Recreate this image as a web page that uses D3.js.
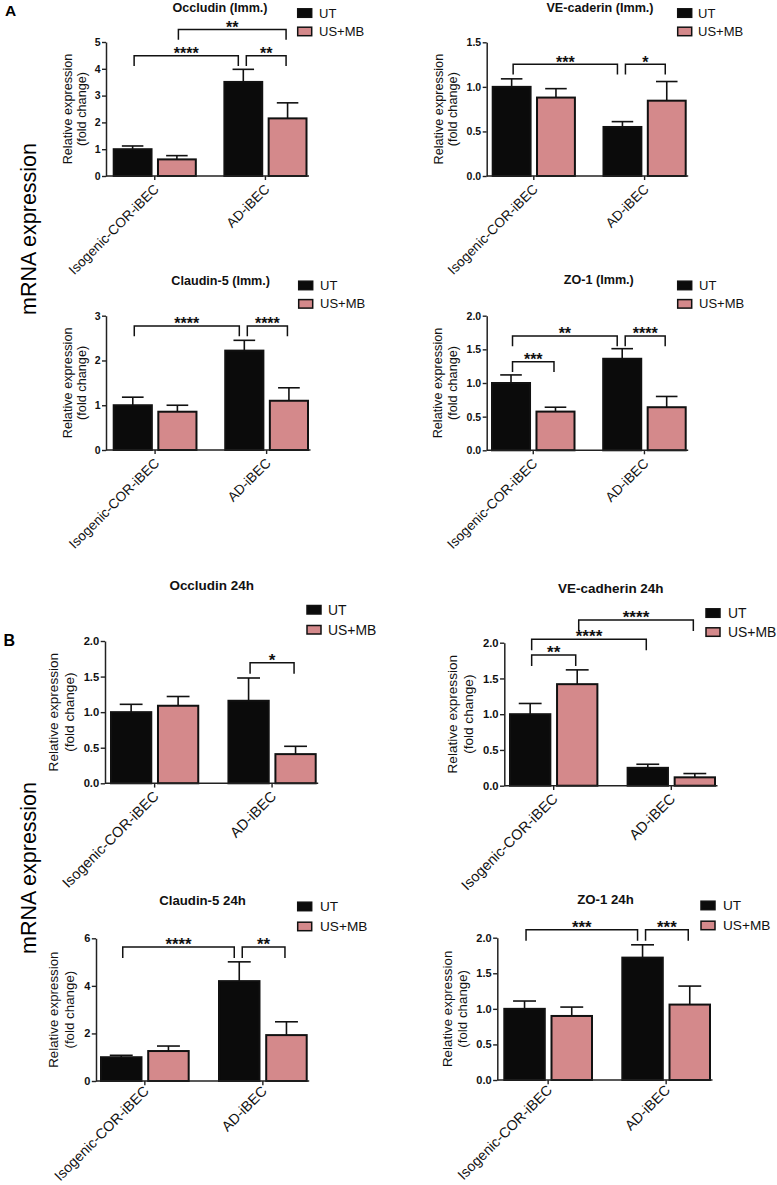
<!DOCTYPE html>
<html><head><meta charset="utf-8">
<script src="https://cdn.jsdelivr.net/npm/d3@7"></script>
<style>
html,body{margin:0;padding:0;background:#fff;}
svg{display:block;font-family:"Liberation Sans",Arial,Helvetica,sans-serif;}
</style></head>
<body>
<svg id="chart" width="777" height="1185"></svg>
<script>
// ---------------- DATA ----------------
const categories = ["Isogenic-COR-iBEC", "AD-iBEC"];
const seriesNames = ["UT", "US+MB"];

// Panel A (Imm.)
const occImmUT = [1.00, 3.51],  occImmUTsem = [0.12, 0.47];
const occImmUS = [0.62, 2.15],  occImmUSsem = [0.14, 0.58];
const occImmTicks = [0, 1, 2, 3, 4, 5];

const veImmUT = [1.00, 0.55],   veImmUTsem = [0.09, 0.06];
const veImmUS = [0.88, 0.845],  veImmUSsem = [0.10, 0.215];
const veImmTicks = [0, 0.5, 1.0, 1.5];

const clImmUT = [1.00, 2.22],   clImmUTsem = [0.18, 0.23];
const clImmUS = [0.855, 1.10],  clImmUSsem = [0.145, 0.29];
const clImmTicks = [0, 1, 2, 3];

const zoImmUT = [1.00, 1.36],   zoImmUTsem = [0.12, 0.15];
const zoImmUS = [0.575, 0.64],  zoImmUSsem = [0.065, 0.16];
const zoImmTicks = [0, 0.5, 1.0, 1.5, 2.0];

// Panel B (24h)
const occ24UT = [1.00, 1.16],   occ24UTsem = [0.11, 0.32];
const occ24US = [1.09, 0.41],   occ24USsem = [0.13, 0.11];
const occ24Ticks = [0, 0.5, 1.0, 1.5, 2.0];

const ve24UT = [1.00, 0.25],    ve24UTsem = [0.15, 0.05];
const ve24US = [1.42, 0.117],   ve24USsem = [0.20, 0.053];
const ve24Ticks = [0, 0.5, 1.0, 1.5, 2.0];

const cl24UT = [1.00, 4.20],    cl24UTsem = [0.08, 0.81];
const cl24US = [1.26, 1.93],    cl24USsem = [0.21, 0.56];
const cl24Ticks = [0, 2, 4, 6];

const zo24UT = [1.00, 1.72],    zo24UTsem = [0.11, 0.18];
const zo24US = [0.90, 1.06],    zo24USsem = [0.125, 0.26];
const zo24Ticks = [0, 0.5, 1.0, 1.5, 2.0];

// significance brackets: a/b = [category index, series index], lv = level in data units
const occImmSig = [{a:[0,0], b:[1,0], lv:4.49, t:"****"}, {a:[1,0], b:[1,1], lv:4.49, t:"**"}, {a:[0,1], b:[1,1], lv:5.47, t:"**"}];
const veImmSig  = [{a:[0,0], b:[1,0], lv:1.254, t:"***"}, {a:[1,0], b:[1,1], lv:1.254, t:"*"}];
const clImmSig  = [{a:[0,0], b:[1,0], lv:2.77, t:"****"}, {a:[1,0], b:[1,1], lv:2.77, t:"****"}];
const zoImmSig  = [{a:[0,0], b:[1,0], lv:1.70, t:"**"}, {a:[1,0], b:[1,1], lv:1.70, t:"****"}, {a:[0,0], b:[0,1], lv:1.317, t:"***"}];
const occ24Sig  = [{a:[1,0], b:[1,1], lv:1.694, t:"*"}];
const ve24Sig   = [{a:[0,0], b:[0,1], lv:1.828, t:"**"}, {a:[0,0], b:[1,0], lv:2.05, t:"****"}, {a:[0,1], b:[1,1], lv:2.318, t:"****"}];
const cl24Sig   = [{a:[0,0], b:[1,0], lv:5.63, t:"****"}, {a:[1,0], b:[1,1], lv:5.63, t:"**"}];
const zo24Sig   = [{a:[0,0], b:[1,0], lv:2.11, t:"***"}, {a:[1,0], b:[1,1], lv:2.11, t:"***"}];

// ---------------- LAYOUT ----------------
const COLORS = ["#0b0b0b", "#d4898b"];
const panels = [
  {title:"Occludin (Imm.)", ut:occImmUT, utE:occImmUTsem, us:occImmUS, usE:occImmUSsem, ticks:occImmTicks, fmt:"d", sig:occImmSig,
   ox:106, xl:112.7, xr:307.5, yTop:42, y0:176, tx:220, ty:7, lx:296.7, ly:8.3, ltx:319, gap:18.4, labDx:-34.3, s:1, cdy:14},
  {title:"VE-caderin (Imm.)", ut:veImmUT, utE:veImmUTsem, us:veImmUS, usE:veImmUSsem, ticks:veImmTicks, fmt:".1f", sig:veImmSig,
   ox:486.7, xl:491.7, xr:686.7, yTop:42.3, y0:176, tx:600, ty:7, lx:676.7, ly:8.3, ltx:698, gap:18.4, labDx:-44, s:1, cdy:14},
  {title:"Claudin-5 (Imm.)", ut:clImmUT, utE:clImmUTsem, us:clImmUS, usE:clImmUSsem, ticks:clImmTicks, fmt:"d", sig:clImmSig,
   ox:106, xl:112.7, xr:309, yTop:315.7, y0:450, tx:220.7, ty:280, lx:297.7, ly:280.7, ltx:320, gap:18.4, labDx:-34.3, s:1, cdy:14},
  {title:"ZO-1 (Imm.)", ut:zoImmUT, utE:zoImmUTsem, us:zoImmUS, usE:zoImmUSsem, ticks:zoImmTicks, fmt:".1f", sig:zoImmSig,
   ox:486.7, xl:491, xr:686.7, yTop:315.7, y0:450.3, tx:598.8, ty:279.3, lx:676.7, ly:280.7, ltx:699, gap:18.4, labDx:-44.4, s:1, cdy:14},
  {title:"Occludin 24h", ut:occ24UT, utE:occ24UTsem, us:occ24US, usE:occ24USsem, ticks:occ24Ticks, fmt:".1f", sig:occ24Sig,
   ox:105, xl:110, xr:316.7, yTop:641, y0:783.3, tx:211.7, ty:585, lx:306, ly:605, ltx:328, gap:20, labDx:-47.3, s:1.07, cdy:14},
  {title:"VE-cadherin 24h", ut:ve24UT, utE:ve24UTsem, us:ve24US, usE:ve24USsem, ticks:ve24Ticks, fmt:".1f", sig:ve24Sig,
   ox:504.3, xl:509, xr:716, yTop:642.7, y0:785.7, tx:610.8, ty:588.3, lx:705, ly:608.3, ltx:728, gap:19, labDx:-47.6, s:1.07, cdy:14},
  {title:"Claudin-5 24h", ut:cl24UT, utE:cl24UTsem, us:cl24US, usE:cl24USsem, ticks:cl24Ticks, fmt:"d", sig:cl24Sig,
   ox:96, xl:100, xr:307.7, yTop:938.3, y0:1081, tx:202.5, ty:900, lx:296.7, ly:901.7, ltx:320, gap:20, labDx:-37.7, s:1.05, cdy:11},
  {title:"ZO-1 24h", ut:zo24UT, utE:zo24UTsem, us:zo24US, usE:zo24USsem, ticks:zo24Ticks, fmt:".1f", sig:zo24Sig,
   ox:497.3, xl:503.3, xr:711, yTop:937.7, y0:1080, tx:605.5, ty:899, lx:700, ly:900.7, ltx:723, gap:20, labDx:-45.6, s:1.05, cdy:11}
];

const svg = d3.select("#chart");

// Section labels
svg.append("text").attr("x", 5).attr("y", 16).attr("font-size", 15.5).attr("font-weight", "bold").text("A");
svg.append("text").attr("x", 3.5).attr("y", 645.5).attr("font-size", 16).attr("font-weight", "bold").text("B");
svg.append("text").attr("transform", "translate(36,229) rotate(-90)").attr("text-anchor", "middle")
  .attr("font-size", 21.5).text("mRNA expression");
svg.append("text").attr("transform", "translate(36,868) rotate(-90)").attr("text-anchor", "middle")
  .attr("font-size", 21.5).text("mRNA expression");

panels.forEach(p => {
  const g = svg.append("g");
  const s = p.s;
  const ymax = d3.max(p.ticks);
  const y = d3.scaleLinear().domain([0, ymax]).range([p.y0, p.yTop]);
  const x0 = d3.scaleBand().domain(categories).range([p.xl, p.xr]).paddingInner(0.24).paddingOuter(0);
  const x1 = d3.scaleBand().domain(seriesNames).range([0, x0.bandwidth()]).paddingInner(0.1).paddingOuter(0);

  const means = [p.ut, p.us], errs = [p.utE, p.usE];
  const rows = [];
  categories.forEach((c, ci) => seriesNames.forEach((sn, si) => {
    rows.push({c, ci, sn, si, v: means[si][ci], e: errs[si][ci]});
  }));
  const cx = d => x0(d.c) + x1(d.sn) + x1.bandwidth() / 2;

  // error bars (behind bars)
  const eg = g.append("g").attr("stroke", "#111").attr("stroke-width", 1.6);
  eg.selectAll("line.v").data(rows).join("line")
    .attr("x1", cx).attr("x2", cx).attr("y1", d => y(d.v)).attr("y2", d => y(d.v + d.e));
  eg.selectAll("line.c").data(rows).join("line")
    .attr("x1", d => cx(d) - x1.bandwidth() * 0.27).attr("x2", d => cx(d) + x1.bandwidth() * 0.27)
    .attr("y1", d => y(d.v + d.e)).attr("y2", d => y(d.v + d.e));

  // bars
  g.append("g").selectAll("rect").data(rows).join("rect")
    .attr("x", d => x0(d.c) + x1(d.sn) + 1)
    .attr("width", x1.bandwidth() - 2)
    .attr("y", d => y(d.v))
    .attr("height", d => y(0) - y(d.v))
    .attr("fill", d => COLORS[d.si])
    .attr("stroke", "#111").attr("stroke-width", 2);

  // y axis
  const fmt = d3.format(p.fmt);
  const ya = g.append("g").attr("transform", `translate(${p.ox},0)`)
    .call(d3.axisLeft(y).tickValues(p.ticks).tickSize(4 * s).tickSizeOuter(0).tickPadding(1.5).tickFormat(fmt));
  ya.select(".domain").attr("stroke", "#222").attr("stroke-width", 1.5);
  ya.selectAll(".tick line").attr("stroke", "#222").attr("stroke-width", 1.4);
  ya.selectAll(".tick text").attr("font-size", 10.5 * s).attr("font-weight", "bold").attr("fill", "#111")
    .attr("font-family", '"Liberation Sans",Arial,sans-serif');

  // x axis
  const xa = g.append("g").attr("transform", `translate(0,${p.y0})`)
    .call(d3.axisBottom(x0).tickSize(4 * s).tickSizeOuter(0).tickFormat(""));
  xa.select(".domain").remove();
  xa.selectAll(".tick line").attr("stroke", "#222").attr("stroke-width", 1.4);
  g.append("path").attr("d", d3.line()([[p.ox, p.y0], [p.xr + 1.5, p.y0]]))
    .attr("stroke", "#222").attr("stroke-width", 1.5);

  // category labels
  g.append("g").selectAll("text").data(categories).join("text")
    .attr("transform", c => `translate(${x0(c) + x0.bandwidth() / 2 + 5},${p.y0 + p.cdy}) rotate(-45)`)
    .attr("text-anchor", "end").attr("font-size", 13.6 * s).attr("fill", "#111").text(c => c);

  // y label
  const yl = g.append("text")
    .attr("transform", `translate(${p.ox + p.labDx},${(p.y0 + p.yTop) / 2}) rotate(-90)`)
    .attr("text-anchor", "middle").attr("font-size", 12.7 * s).attr("fill", "#111");
  yl.append("tspan").attr("x", 0).attr("y", 0).text("Relative expression");
  yl.append("tspan").attr("x", 0).attr("y", 14.8 * s).text("(fold change)");

  // title
  g.append("text").attr("x", p.tx).attr("y", p.ty + 4.6 * s).attr("text-anchor", "middle")
    .attr("font-size", 12.6 * s).attr("font-weight", "bold").attr("fill", "#111").text(p.title);

  // legend
  const lg = g.append("g");
  seriesNames.forEach((sn, i) => {
    lg.append("rect").attr("x", p.lx + 1).attr("y", p.ly + i * p.gap + 0.5).attr("width", 14).attr("height", 8.5)
      .attr("fill", COLORS[i]).attr("stroke", "#111").attr("stroke-width", 1.5);
    lg.append("text").attr("x", p.ltx).attr("y", p.ly + i * p.gap + 4.8).attr("dy", "0.35em")
      .attr("font-size", 13 * s).attr("fill", "#111").text(sn);
  });

  // significance brackets
  const barX = (ci, si) => x0(categories[ci]) + x1(seriesNames[si]) + x1.bandwidth() / 2;
  const key = e => e[0] + "-" + e[1];
  const leg = 10.3 * s;
  const sg = g.append("g");
  p.sig.forEach(b => {
    let xa1 = barX(b.a[0], b.a[1]) + 1.5;
    let xb1 = barX(b.b[0], b.b[1]) - 1.5;
    if (p.sig.some(o => o !== b && o.lv === b.lv && key(o.a) === key(b.b))) xb1 -= 3.5;
    if (p.sig.some(o => o !== b && o.lv === b.lv && key(o.b) === key(b.a))) xa1 += 1.5;
    const yt = y(b.lv);
    sg.append("path").attr("d", d3.line()([[xa1, yt + leg], [xa1, yt], [xb1, yt], [xb1, yt + leg]]))
      .attr("fill", "none").attr("stroke", "#111").attr("stroke-width", 1.5);
    sg.append("text").attr("x", (xa1 + xb1) / 2).attr("y", yt + 3.3).attr("text-anchor", "middle")
      .attr("font-size", 16 * s).attr("font-weight", "bold").attr("fill", "#111").text(b.t);
  });
});
</script>
</body></html>
